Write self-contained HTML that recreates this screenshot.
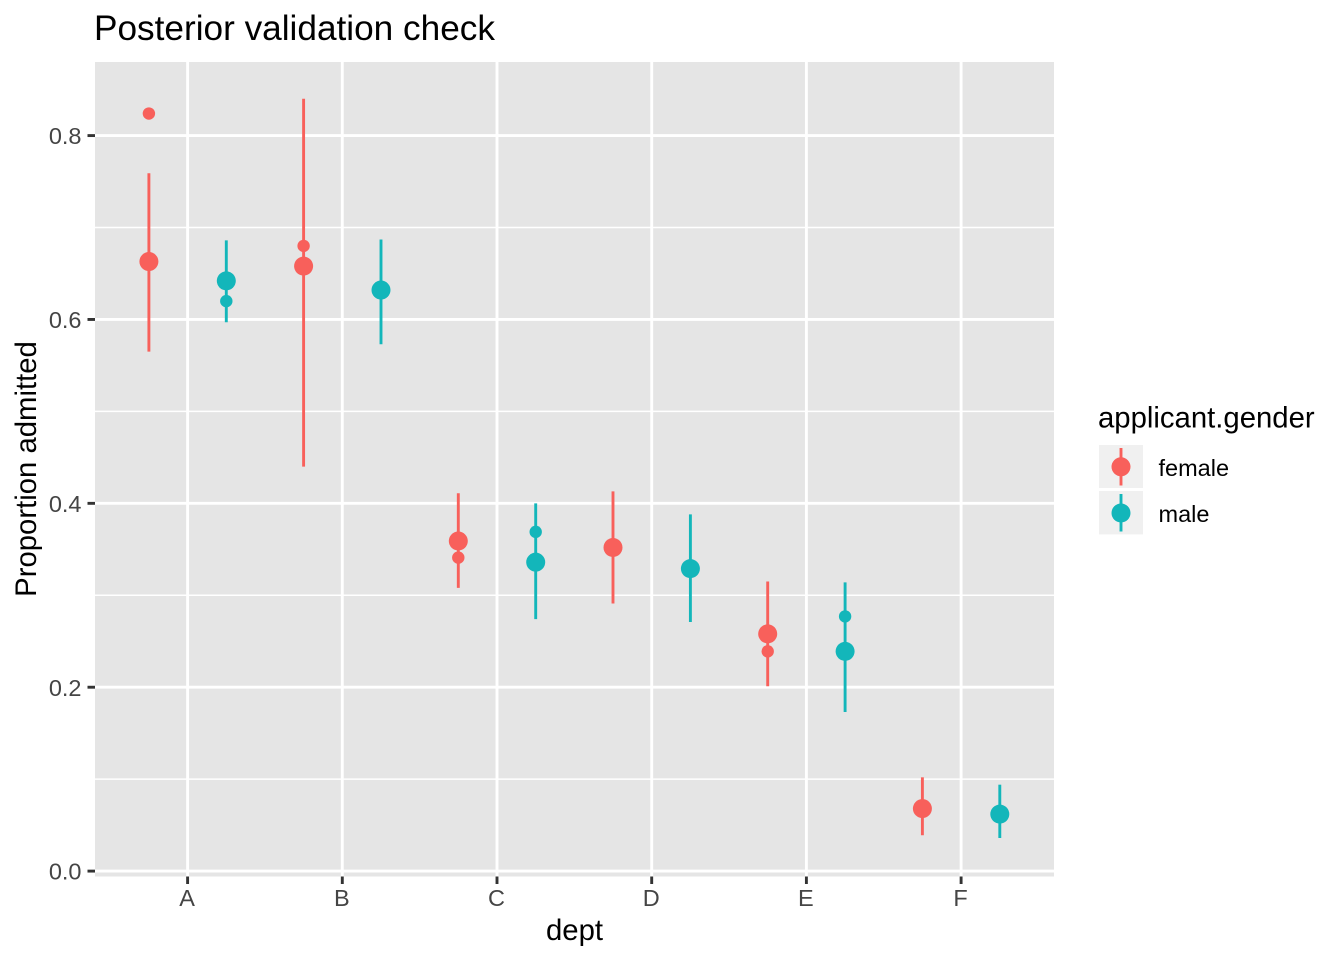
<!DOCTYPE html>
<html lang="en">
<head>
<meta charset="utf-8">
<title>Posterior validation check</title>
<style>
html,body{margin:0;padding:0;background:#fff;}
svg{display:block;font-family:"Liberation Sans",Arial,sans-serif;}
</style>
</head>
<body>
<svg id="chart" xmlns="http://www.w3.org/2000/svg" width="1344" height="960" viewBox="0 0 1344 960">
  <rect x="0" y="0" width="1344" height="960" fill="#ffffff"/>
  <text x="94" y="40" font-size="35.2" fill="#000">Posterior validation check</text>
  <rect x="95" y="62" width="959" height="814.5" fill="#e5e5e5"/>
  <g id="grid"></g>
  <g id="axes"></g>
  <g id="marks"></g>
  <text x="574.5" y="940" font-size="29.3" text-anchor="middle" fill="#000">dept</text>
  <text transform="translate(36 469) rotate(-90)" font-size="29.3" text-anchor="middle" fill="#000">Proportion admitted</text>
  <g>
    <text x="1098" y="427.6" font-size="29.3" fill="#000">applicant.gender</text>
    <g>
      <rect x="1099" y="445" width="44" height="43" fill="#f0f0f0"/>
      <line x1="1121" x2="1121" y1="448" y2="485.5" stroke="#F8605B" stroke-width="2.9"/>
      <circle cx="1121" cy="466.8" r="9.5" fill="#F8605B"/>
      <text x="1158.5" y="476.2" font-size="23.5" fill="#000">female</text>
    </g>
    <g>
      <rect x="1099" y="491" width="44" height="43.4" fill="#f0f0f0"/>
      <line x1="1121" x2="1121" y1="494" y2="531.5" stroke="#13B6BA" stroke-width="2.9"/>
      <circle cx="1121" cy="513" r="9.5" fill="#13B6BA"/>
      <text x="1158.5" y="522.2" font-size="23.5" fill="#000">male</text>
    </g>
  </g>
</svg>
<script>
const departments = ["A", "B", "C", "D", "E", "F"];
const yTickValues = [0, 0.2, 0.4, 0.6, 0.8];
const yTickLabels = ["0.0", "0.2", "0.4", "0.6", "0.8"];
const yMinorValues = [0.1, 0.3, 0.5, 0.7];

const femaleMean = [0.663, 0.658, 0.359, 0.352, 0.258, 0.068];
const femaleLower = [0.565, 0.440, 0.308, 0.291, 0.201, 0.039];
const femaleUpper = [0.759, 0.840, 0.411, 0.413, 0.315, 0.102];
const femaleObserved = [0.824, 0.680, 0.341, 0.349, 0.239, 0.070];

const maleMean = [0.642, 0.632, 0.336, 0.329, 0.239, 0.062];
const maleLower = [0.597, 0.573, 0.274, 0.271, 0.173, 0.036];
const maleUpper = [0.686, 0.687, 0.400, 0.388, 0.314, 0.094];
const maleObserved = [0.620, 0.630, 0.369, 0.330, 0.277, 0.060];

const NS = "http://www.w3.org/2000/svg";
const panelLeft = 95, panelRight = 1054, panelTop = 62, panelBottom = 876.5;

function xScale(index) {
  return 187.6 + index * 154.7;
}
function yScale(value) {
  return 871.1 - value * 919.4;
}
function make(parent, tag, attrs) {
  const el = document.createElementNS(NS, tag);
  Object.keys(attrs).forEach(function (k) { el.setAttribute(k, attrs[k]); });
  parent.appendChild(el);
  return el;
}

const grid = document.getElementById("grid");
const axes = document.getElementById("axes");
const marks = document.getElementById("marks");

yMinorValues.forEach(function (v) {
  const el = make(grid, "line", { x1: panelLeft, x2: panelRight, y1: yScale(v), y2: yScale(v), stroke: "#fff", "stroke-width": 1.45 });
  
  
});
yTickValues.forEach(function (v) {
  const el = make(grid, "line", { x1: panelLeft, x2: panelRight, y1: yScale(v), y2: yScale(v), stroke: "#fff", "stroke-width": 2.9 });
  
  
});
departments.forEach(function (d, i) {
  const el = make(grid, "line", { x1: xScale(i), x2: xScale(i), y1: panelTop, y2: panelBottom, stroke: "#fff", "stroke-width": 2.9 });
  
  
});

yTickValues.forEach(function (v, i) {
  const tick = make(axes, "line", { x1: 87.5, x2: panelLeft, y1: yScale(v), y2: yScale(v), stroke: "#333", "stroke-width": 2.9 });
  
  
  const label = make(axes, "text", { x: 81.5, y: yScale(v) + 8.6, "font-size": 23.5, "text-anchor": "end", fill: "#454545" });
  label.textContent = yTickLabels[i];
  
  
});
departments.forEach(function (d, i) {
  const tick = make(axes, "line", { x1: xScale(i), x2: xScale(i), y1: panelBottom, y2: 884, stroke: "#333", "stroke-width": 2.9 });
  
  
  const label = make(axes, "text", { x: xScale(i) - 0.5, y: 906, "font-size": 23.5, "text-anchor": "middle", fill: "#454545" });
  label.textContent = d;
  
  
});

function drawSeries(name, color, offset, mean, lower, upper, observed) {
  departments.forEach(function (d, i) {
    const x = xScale(i) + offset;
    const range = make(marks, "line", { x1: x, x2: x, y1: yScale(lower[i]), y2: yScale(upper[i]), stroke: color, "stroke-width": 2.9 });
    
    
    const obs = make(marks, "circle", { cx: x, cy: yScale(observed[i]), r: 6.2, fill: color });
    
    
    const pt = make(marks, "circle", { cx: x, cy: yScale(mean[i]), r: 9.5, fill: color });
    
    
  });
}
drawSeries("female", "#F8605B", -38.7, femaleMean, femaleLower, femaleUpper, femaleObserved);
drawSeries("male", "#13B6BA", 38.7, maleMean, maleLower, maleUpper, maleObserved);
</script>
</body>
</html>
